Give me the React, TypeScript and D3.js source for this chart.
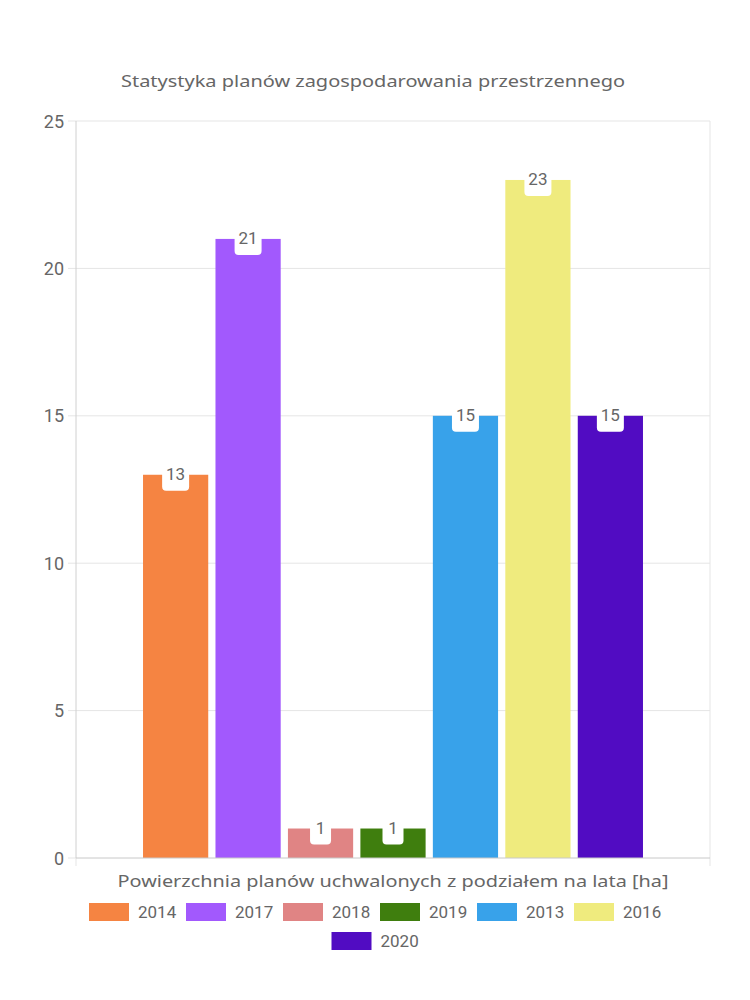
import React from "react";
import * as d3 from "d3";

const seriesNames = ["2014", "2017", "2018", "2019", "2013", "2016", "2020"];
const seriesValues = [13, 21, 1, 1, 15, 23, 15];
const seriesColors = ["#f58442", "#a259fd", "#e08484", "#3f7e0e", "#38a2ea", "#efeb7e", "#510cc2"];
const yTicks = [0, 5, 10, 15, 20, 25];
const categories = ["Powierzchnia planów uchwalonych z podziałem na lata [ha]"];
const chartTitle = "Statystyka planów zagospodarowania przestrzennego";

const W = 750, H = 1000;
const left = 76, right = 710, top = 121, bottom = 858;
const textColor = "#666";
const numFont = "Roboto, 'Liberation Sans', sans-serif";
const titleFont = "'Noto Sans', 'DejaVu Sans', sans-serif";

export default function App() {
  const y = d3.scaleLinear().domain([0, 25]).range([bottom, top]);
  const xCat = d3.scaleBand().domain(categories).range([left, right]).paddingInner(0).paddingOuter(0);
  const catStart = xCat(categories[0])!;
  const catW = xCat.bandwidth();
  const groupW = catW * 0.8;
  const xSeries = d3.scaleBand().domain(seriesNames).range([catStart + (catW - groupW) / 2, catStart + (catW + groupW) / 2]).paddingInner(0.1).paddingOuter(0.05);

  // legend layout
  const textW = 37;
  const itemW = 40 + 10 + textW;
  const gap = 10;
  const perRow = 6;
  const rows: { name: string; color: string; x: number; y: number }[] = [];
  for (let i = 0; i < seriesNames.length; i++) {
    const row = Math.floor(i / perRow);
    const rowCount = Math.min(perRow, seriesNames.length - row * perRow);
    const rowWidth = rowCount * itemW + (rowCount - 1) * gap;
    const startX = W / 2 - rowWidth / 2;
    const col = i - row * perRow;
    rows.push({ name: seriesNames[i], color: seriesColors[i], x: startX + col * (itemW + gap), y: 912 + row * 29 });
  }

  return (
    <svg width={W} height={H} style={{ display: "block", position: "absolute", left: 0, top: 0 }}>
      <rect width={W} height={H} fill="#fff" />
      <text x={373} y={80} textAnchor="middle" dominantBaseline="central" fill={textColor}
        fontFamily={titleFont} fontSize={17} textLength={504} lengthAdjust="spacingAndGlyphs">{chartTitle}</text>

      {/* grid */}
      {yTicks.map((t) => (
        <g key={t}>
          {t > 0 && <line x1={left} x2={right} y1={y(t)} y2={y(t)} stroke="#e5e5e5" strokeWidth={1} />}
          <line x1={left - 8} x2={left} y1={y(t)} y2={y(t)} stroke="#e5e5e5" strokeWidth={1} />
          <text x={left - 12} y={y(t)} textAnchor="end" dominantBaseline="central" fill={textColor}
            fontFamily={numFont} fontSize={18}>{t}</text>
        </g>
      ))}
      <line x1={left} x2={left} y1={top} y2={bottom} stroke="#d0d0d0" />
      <line x1={right} x2={right} y1={top} y2={bottom + 8} stroke="#e5e5e5" />
      <line x1={left} x2={left} y1={bottom} y2={bottom + 8} stroke="#e5e5e5" />

      {/* bars */}
      {seriesNames.map((s, i) => {
        const x0 = xSeries(s)!;
        const bw = xSeries.bandwidth();
        return (
          <rect key={s} x={x0} y={y(seriesValues[i])} width={bw} height={bottom - y(seriesValues[i])} fill={seriesColors[i]} />
        );
      })}
      <line x1={left} x2={right} y1={bottom} y2={bottom} stroke="#c8c8c8" />

      {/* value labels */}
      {seriesNames.map((s, i) => {
        const cx = xSeries(s)! + xSeries.bandwidth() / 2;
        const cy = y(seriesValues[i]);
        const lw = String(seriesValues[i]).length > 1 ? 27 : 21;
        return (
          <g key={"l" + s}>
            <rect x={cx - lw / 2} y={cy - 16} width={lw} height={32} rx={4} fill="#fff" />
            <text x={cx} y={cy - 1} textAnchor="middle" dominantBaseline="central" fill={textColor}
              fontFamily={numFont} fontSize={17}>{seriesValues[i]}</text>
          </g>
        );
      })}

      <text x={(left + right) / 2} y={880} textAnchor="middle" dominantBaseline="central" fill={textColor}
        fontFamily={titleFont} fontSize={17} textLength={551} lengthAdjust="spacingAndGlyphs">{categories[0]}</text>

      {/* legend */}
      {rows.map((r) => (
        <g key={"lg" + r.name}>
          <rect x={r.x} y={r.y - 9} width={40} height={18} fill={r.color} />
          <text x={r.x + 49} y={r.y} dominantBaseline="central" fill={textColor}
            fontFamily={numFont} fontSize={17}>{r.name}</text>
        </g>
      ))}
    </svg>
  );
}
